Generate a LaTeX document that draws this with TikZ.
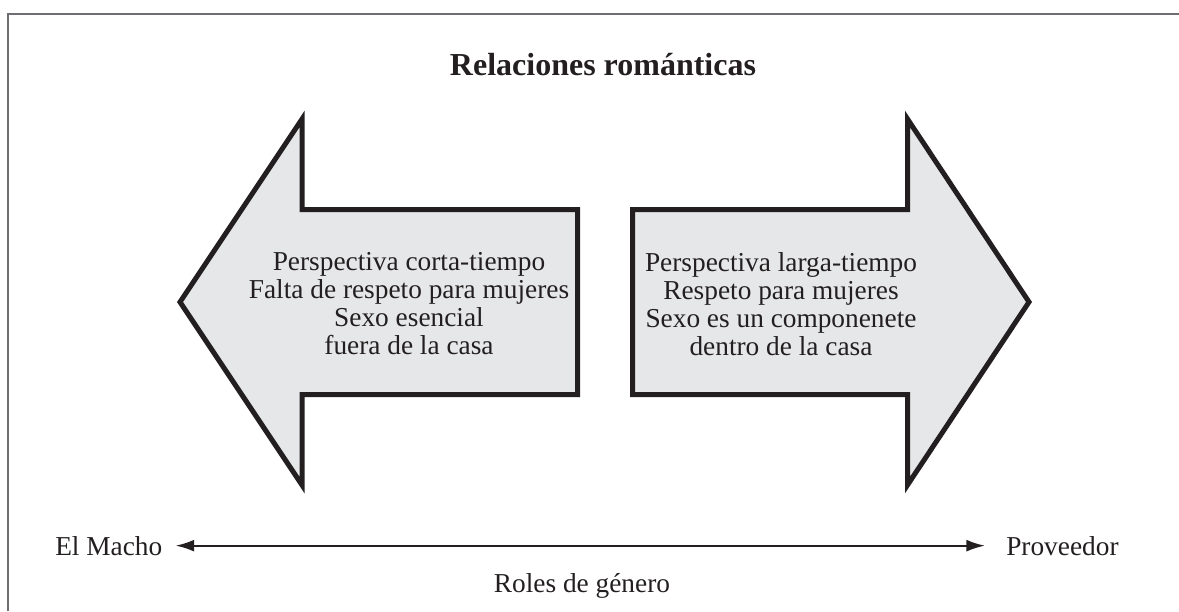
\documentclass[tikz,border=0pt]{standalone}
\usepackage{fontspec}
\setmainfont{Liberation Serif}
\usetikzlibrary{arrows.meta}
\definecolor{arrowfill}{HTML}{E6E7E8}
\definecolor{inkblack}{HTML}{231F20}
\definecolor{framegray}{HTML}{6D6E71}
\tikzset{
  bigarrow/.style={draw=inkblack,fill=arrowfill,line width=3.75pt,line join=miter},
  arrowtext/.style={align=center,inner sep=0pt,text=inkblack,font=\fontsize{20.5}{21}\selectfont},
  axislabel/.style={inner sep=0pt,text=inkblack,font=\fontsize{20.5}{21}\selectfont},
  roleline/.style={draw=inkblack,line width=1.6pt,{Latex[length=14pt,width=9pt]}-{Latex[length=14pt,width=9pt]}}
}
\begin{document}
\begin{tikzpicture}[x=0.75pt,y=-0.75pt]
\useasboundingbox (0,0) rectangle (1179,611);
\draw [framegray,line width=1.2pt] (8,611) -- (8,14) -- (1179,14);
\node (title) [anchor=base,inner sep=0pt,text=inkblack,font=\fontsize{24}{26}\selectfont\bfseries] at (603,75) {Relaciones rom\'anticas};
\draw [bigarrow] (180,302) -- (302,119) -- (302,209.5) -- (577.5,209.5)
	-- (577.5,394.5) -- (302,394.5) -- (302,485) -- cycle;
\draw [bigarrow] (632.5,209.5) -- (907.5,209.5) -- (907.5,119) -- (1029,302)
	-- (907.5,485) -- (907.5,394.5) -- (632.5,394.5) -- cycle;
\node (cortatext) [arrowtext] at (409,304) {Perspectiva corta-tiempo\\Falta de respeto para mujeres\\Sexo esencial\\fuera de la casa};
\node (largatext) [arrowtext] at (781,304) {Perspectiva larga-tiempo\\Respeto para mujeres\\Sexo es un componenete\\dentro de la casa};
\node (macho) [axislabel,anchor=base west] at (55,555) {El Macho};
\node (proveedor) [axislabel,anchor=base west] at (1006,555) {Proveedor};
\draw [roleline,shorten <=9.75pt,shorten >=15.75pt] (macho.east) -- (proveedor.west);
\node (roles) [axislabel,anchor=base] at (582,592) {Roles de g\'enero};
\end{tikzpicture}
\end{document}
